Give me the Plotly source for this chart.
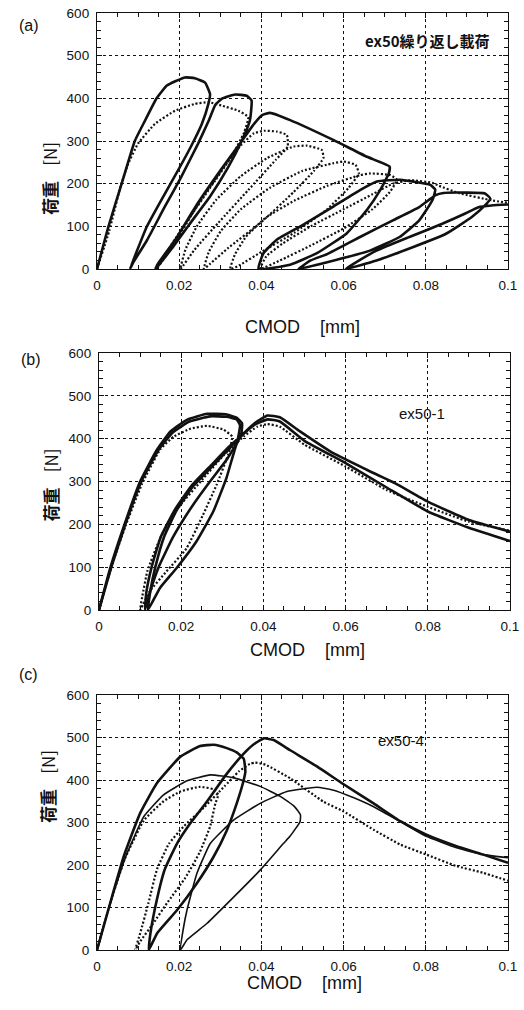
import plotly.graph_objects as go

# ---------------- (a) ex50 cyclic loading ----------------
a_solid_x = [0, 0.0028, 0.006, 0.0092, 0.0117, 0.0145, 0.017, 0.0214, 0.0238, 0.0263, 0.0275, 0.0271,
             0.0255, 0.0228, 0.0193, 0.0152, 0.0121, 0.0095, 0.008,
             0.0088, 0.0122, 0.0165, 0.0205, 0.0246, 0.0272, 0.0288, 0.0305, 0.0336, 0.0364, 0.0376, 0.0372,
             0.0352, 0.032, 0.0275, 0.0225, 0.0182, 0.0142,
             0.0148, 0.019, 0.0245, 0.03, 0.0348, 0.0378, 0.0401, 0.0421, 0.047, 0.0576, 0.0657, 0.0712,
             0.071, 0.0689, 0.0657, 0.0608, 0.0535, 0.047, 0.0393,
             0.0405, 0.0438, 0.0495, 0.0576, 0.064, 0.0681, 0.0738, 0.0811, 0.0823,
             0.0816, 0.0784, 0.0736, 0.0664, 0.056, 0.049,
             0.052, 0.056, 0.064, 0.072, 0.0784, 0.0824, 0.0843, 0.09, 0.0944, 0.0957,
             0.0944, 0.0912, 0.0848, 0.0768, 0.068, 0.0605,
             0.0624, 0.068, 0.076, 0.084, 0.0896, 0.0928, 0.096, 0.1]
a_solid_y = [0, 100, 200, 300, 348, 400, 430, 449, 447, 437, 410, 387,
             340, 286, 224, 154, 99, 37, 0,
             15, 68, 146, 216, 294, 348, 385, 400, 409, 406, 395, 348,
             300, 240, 170, 105, 48, 0,
             12, 68, 154, 231, 294, 335, 360, 366, 349, 302, 263, 240,
             224, 185, 139, 84, 37, 10, 0,
             37, 69, 100, 147, 185, 205, 209, 197, 186,
             161, 114, 75, 43, 16, 0,
             20, 35, 75, 114, 145, 173, 178, 179, 177, 165,
             149, 122, 82, 51, 20, 0,
             12, 43, 75, 106, 130, 145, 149, 151]

a_dot_x = [0, 0.003, 0.0057, 0.0076, 0.01, 0.0141, 0.019, 0.0238, 0.0271, 0.0303, 0.0344, 0.0368,
           0.0358, 0.0325, 0.0275, 0.0225, 0.0183, 0.0155, 0.0145,
           0.016, 0.0195, 0.0245, 0.0302, 0.035, 0.0382, 0.0406, 0.0438, 0.0462, 0.0464,
           0.0435, 0.0368, 0.0295, 0.0237, 0.0203,
           0.0215, 0.0243, 0.029, 0.0349, 0.0414, 0.0478, 0.0511, 0.0547, 0.0551,
           0.0528, 0.0478, 0.04, 0.032, 0.0275, 0.026,
           0.0272, 0.0302, 0.035, 0.042, 0.05, 0.0576, 0.06, 0.0629, 0.0637,
           0.0612, 0.056, 0.048, 0.04, 0.0345, 0.0324,
           0.0336, 0.0362, 0.041, 0.048, 0.056, 0.064, 0.0665, 0.0714, 0.073,
           0.0712, 0.067, 0.06, 0.052, 0.0445, 0.0397,
           0.0412, 0.0452, 0.052, 0.06, 0.067, 0.072, 0.0765, 0.0816, 0.0832, 0.088, 0.096, 0.1]
a_dot_y = [0, 90, 193, 247, 294, 340, 371, 387, 391, 383, 371, 356,
           320, 260, 190, 120, 60, 15, 0,
           20, 70, 150, 230, 290, 318, 324, 322, 314, 287,
           256, 185, 108, 45, 0,
           45, 100, 162, 217, 260, 287, 289, 279, 260,
           230, 180, 110, 50, 12, 0,
           40, 90, 140, 190, 230, 248, 252, 244, 224,
           190, 140, 85, 40, 8, 0,
           35, 75, 120, 160, 195, 220, 224, 220, 209,
           180, 140, 95, 55, 20, 0,
           30, 60, 100, 140, 175, 200, 208, 202, 195, 178, 161, 155]

# ---------------- (b) ex50-1 ----------------
b_s1_x = [0, 0.0028, 0.006, 0.01, 0.0141, 0.0174, 0.0214, 0.0263, 0.0308, 0.0336, 0.0348, 0.0346,
          0.0334, 0.031, 0.0278, 0.0237, 0.0188, 0.0148, 0.0119,
          0.0125, 0.0137, 0.0158, 0.019, 0.023, 0.028, 0.032, 0.0355, 0.038, 0.041, 0.044,
          0.0489, 0.057, 0.065, 0.072, 0.08, 0.09, 0.1]
b_s1_y = [0, 100, 194, 300, 374, 417, 444, 458, 457, 448, 436, 410,
          386, 308, 230, 160, 97, 51, 0,
          45, 100, 170, 235, 290, 340, 380, 415, 437, 454, 450,
          417, 366, 328, 296, 253, 210, 183]

b_s2_x = [0, 0.003, 0.0063, 0.0103, 0.0145, 0.018, 0.022, 0.027, 0.031, 0.0335, 0.0343, 0.034,
          0.0335, 0.031, 0.027, 0.0225, 0.018, 0.0145, 0.0125, 0.0112,
          0.0115, 0.0128, 0.015, 0.0185, 0.0225, 0.0275, 0.0315, 0.035, 0.0378, 0.041, 0.044,
          0.05, 0.06, 0.07, 0.08, 0.09, 0.1]
b_s2_y = [0, 100, 197, 300, 374, 415, 440, 452, 451, 445, 432, 410,
          390, 350, 300, 240, 170, 100, 45, 0,
          40, 100, 170, 235, 290, 340, 380, 410, 432, 445, 440,
          395, 343, 286, 230, 192, 161]

b_dot_x = [0, 0.003, 0.0064, 0.0105, 0.0149, 0.0182, 0.0222, 0.0263, 0.0303, 0.0324,
           0.0314, 0.0286, 0.0253, 0.0213, 0.0164, 0.0123, 0.0107, 0.01,
           0.0105, 0.0118, 0.015, 0.0195, 0.025, 0.0308, 0.0352, 0.0385, 0.041, 0.044,
           0.05, 0.06, 0.07, 0.08, 0.09, 0.1]
b_dot_y = [0, 100, 195, 295, 375, 405, 423, 430, 421, 405,
           362, 292, 222, 144, 90, 43, 12, 0,
           30, 92, 170, 241, 303, 366, 405, 428, 434, 428,
           386, 335, 280, 241, 206, 185]

# ---------------- (c) ex50-4 ----------------
c_s1_x = [0, 0.0032, 0.0065, 0.0105, 0.0146, 0.0203, 0.0251, 0.0284, 0.0316, 0.034, 0.0357, 0.0361,
          0.0357, 0.034, 0.0316, 0.0284, 0.0243, 0.0195, 0.0146, 0.0126,
          0.013, 0.0146, 0.0165, 0.0195, 0.0227, 0.0268, 0.0316, 0.0357, 0.038, 0.0406, 0.043,
          0.047, 0.0535, 0.06, 0.0673, 0.0738, 0.08, 0.0873, 0.0938, 0.1]
c_s1_y = [0, 110, 220, 322, 393, 455, 480, 483, 475, 465, 450, 420,
          400, 345, 282, 220, 157, 94, 39, 0,
          39, 120, 190, 251, 298, 350, 415, 462, 483, 498, 494,
          470, 432, 390, 345, 303, 272, 245, 225, 205]

c_s2_x = [0, 0.0032, 0.007, 0.0114, 0.0162, 0.0219, 0.0276, 0.0333, 0.0397, 0.0445, 0.048, 0.0495, 0.0494,
          0.047, 0.0454, 0.0397, 0.0333, 0.0268, 0.0219, 0.0203,
          0.021, 0.0219, 0.0243, 0.0276, 0.0333, 0.0397, 0.0462, 0.0535, 0.0576, 0.0625,
          0.0673, 0.0738, 0.08, 0.0873, 0.0938, 0.1]
c_s2_y = [0, 110, 220, 314, 365, 398, 412, 405, 385, 362, 338, 318, 302,
          268, 251, 188, 125, 63, 24, 0,
          50, 94, 180, 251, 306, 345, 373, 383, 376, 358,
          337, 302, 268, 241, 225, 217]

c_dot_x = [0, 0.0032, 0.0068, 0.0114, 0.0162, 0.0203, 0.0251, 0.0284, 0.0295,
           0.0288, 0.0275, 0.025, 0.0215, 0.017, 0.0135, 0.0105, 0.0093,
           0.0105, 0.0125, 0.0146, 0.0175, 0.021, 0.026, 0.031, 0.0345, 0.0372, 0.0385, 0.041,
           0.047, 0.0551, 0.06, 0.0673, 0.0738, 0.08, 0.0873, 0.0938, 0.1]
c_dot_y = [0, 110, 215, 305, 350, 373, 384, 378, 365,
           345, 290, 230, 170, 110, 60, 20, 0,
           39, 110, 190, 250, 290, 335, 385, 420, 438, 441, 436,
           404, 349, 326, 283, 248, 225, 198, 182, 163]

INK = "#111111"
TICK_FONT = dict(family="Liberation Sans, Arial, sans-serif", size=13.5, color=INK)
JP_FONT = "Noto Sans CJK JP, sans-serif"

fig = go.Figure()


def add_curve(x, y, axis, style):
    xa, ya = axis
    if style == "thick":
        line = dict(color=INK, width=2.6)
    elif style == "thin":
        line = dict(color=INK, width=1.6)
    else:
        line = dict(color=INK, width=2.2, dash="2px,2px")
    line.update(shape="spline", smoothing=0.4)
    fig.add_trace(go.Scatter(x=x, y=y, mode="lines", line=line, xaxis=xa, yaxis=ya,
                             showlegend=False, hoverinfo="skip"))


add_curve(a_solid_x, a_solid_y, ("x", "y"), "thick")
add_curve(a_dot_x, a_dot_y, ("x", "y"), "dot")
add_curve(b_s1_x, b_s1_y, ("x2", "y2"), "thick")
add_curve(b_s2_x, b_s2_y, ("x2", "y2"), "thick")
add_curve(b_dot_x, b_dot_y, ("x2", "y2"), "dot")
add_curve(c_s1_x, c_s1_y, ("x3", "y3"), "thick")
add_curve(c_s2_x, c_s2_y, ("x3", "y3"), "thin")
add_curve(c_dot_x, c_dot_y, ("x3", "y3"), "dot")


def xaxis_style(domain, anchor):
    return dict(domain=domain, anchor=anchor, range=[0, 0.1], dtick=0.02, tick0=0,
                showgrid=True, gridcolor=INK, griddash="3px,3px", gridwidth=1,
                ticks="inside", ticklen=5, tickwidth=1, tickcolor=INK,
                minor=dict(dtick=0.005, ticks="inside", ticklen=4, tickcolor=INK, showgrid=False),
                showline=True, linecolor=INK, linewidth=1.3, mirror="ticks",
                zeroline=False, tickfont=TICK_FONT, ticklabelstandoff=4,
                automargin=False, fixedrange=True)


def yaxis_style(domain, anchor):
    return dict(domain=domain, anchor=anchor, range=[0, 600], dtick=100, tick0=0,
                showgrid=True, gridcolor=INK, griddash="3px,3px", gridwidth=1,
                ticks="inside", ticklen=5, tickwidth=1, tickcolor=INK,
                minor=dict(dtick=20, ticks="inside", ticklen=4, tickcolor=INK, showgrid=False),
                showline=True, linecolor=INK, linewidth=1.3, mirror="ticks",
                zeroline=False, tickfont=TICK_FONT, ticklabelstandoff=4,
                automargin=False, fixedrange=True)


W, H = 524, 1010
xa_dom = [97 / W, 508 / W]
xb_dom = [99 / W, 510 / W]
ya_dom = [1 - 269 / H, 1 - 13 / H]
yb_dom = [1 - 610 / H, 1 - 353 / H]
yc_dom = [1 - 950 / H, 1 - 695 / H]

annotations = []
# panel letters
for txt, px, py in [("(a)", 17, 15), ("(b)", 19, 359), ("(c)", 17, 685)]:
    annotations.append(dict(text=txt, x=px / W, y=1 - py / H, xref="paper", yref="paper",
                            showarrow=False, font=dict(family="Liberation Sans, Arial", size=16, color=INK)))
# axis titles
for px, py in [(302, 315), (307, 650), (304, 995)]:
    annotations.append(dict(text="CMOD\u00a0\u00a0\u00a0\u00a0[mm]", x=px / W, y=1 - py / H,
                            xref="paper", yref="paper", showarrow=False,
                            font=dict(family="Liberation Sans, Arial", size=18, color=INK)))
for px, py in [(35, 140), (35, 485), (33, 825)]:
    annotations.append(dict(text="<b>荷重</b>\u00a0\u00a0\u00a0\u00a0[N]", x=px / W, y=1 - py / H,
                            xref="paper", yref="paper", showarrow=False, textangle=-90,
                            font=dict(family=JP_FONT, size=17, color=INK)))
# specimen labels
annotations.append(dict(text="<b>ex50繰り返し載荷</b>", x=0.0803, y=535, xref="x", yref="y",
                        showarrow=False, font=dict(family=JP_FONT, size=15, color=INK)))
annotations.append(dict(text="ex50-1", x=0.0786, y=458, xref="x2", yref="y2",
                        showarrow=False, font=dict(family="Liberation Sans, Arial", size=15, color=INK)))
annotations.append(dict(text="ex50-4", x=0.074, y=494, xref="x3", yref="y3",
                        showarrow=False, font=dict(family="Liberation Sans, Arial", size=15, color=INK)))

fig.update_layout(
    width=W, height=H, margin=dict(l=0, r=0, t=0, b=0, pad=0, autoexpand=False),
    paper_bgcolor="white", plot_bgcolor="white",
    xaxis=xaxis_style(xa_dom, "y"), yaxis=yaxis_style(ya_dom, "x"),
    xaxis2=xaxis_style(xb_dom, "y2"), yaxis2=yaxis_style(yb_dom, "x2"),
    xaxis3=xaxis_style(xa_dom, "y3"), yaxis3=yaxis_style(yc_dom, "x3"),
    annotations=annotations,
)

fig.write_html("out.html")
